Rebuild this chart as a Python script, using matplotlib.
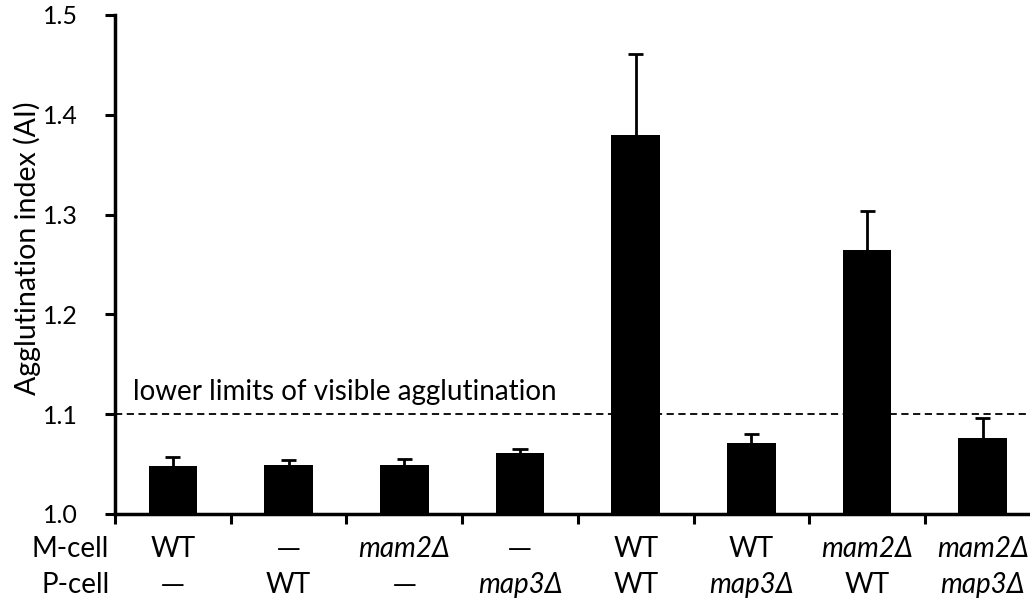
import matplotlib
matplotlib.use('Agg')
import matplotlib.pyplot as plt

# data
m_cell = ['WT', '—', 'mam2Δ', '—', 'WT', 'WT', 'mam2Δ', 'mam2Δ']
p_cell = ['—', 'WT', '—', 'map3Δ', 'WT', 'map3Δ', 'WT', 'map3Δ']
ai_mean = [1.048, 1.049, 1.049, 1.061, 1.380, 1.071, 1.265, 1.076]
ai_err = [0.009, 0.005, 0.006, 0.004, 0.081, 0.009, 0.039, 0.020]
threshold = 1.1

plt.rcParams['font.family'] = ['Lato', 'DejaVu Sans']
fs = 20

fig = plt.figure(figsize=(10.30, 6.09), dpi=100)
ax = fig.add_axes([0.1117, 0.156, 0.8986, 0.8194])

x = list(range(len(ai_mean)))
ax.bar(x, [v - 1.0 for v in ai_mean], bottom=1.0, width=0.42, color='black', zorder=2)
# upper error bars only, with a cap
tops = [m + e for m, e in zip(ai_mean, ai_err)]
ax.vlines(x, ai_mean, tops, color='black', linewidth=2, zorder=3)
ax.hlines(tops, [i - 0.065 for i in x], [i + 0.065 for i in x], color='black', linewidth=2, zorder=3)

ax.axhline(threshold, color='black', linestyle='--', linewidth=1.3, dashes=(4, 2.5), zorder=1)
ax.text(-0.345, threshold + 0.009, 'lower limits of visible agglutination',
        fontsize=fs, ha='left', va='bottom')

ax.set_xlim(-0.5, 7.5)
ax.set_ylim(1.0, 1.5)
ax.set_yticks([1.0, 1.1, 1.2, 1.3, 1.4, 1.5])
ax.set_yticklabels(['1.0', '1.1', '1.2', '1.3', '1.4', '1.5'], fontsize=18)
ax.set_xticks([i - 0.5 for i in range(9)])
ax.set_xticklabels([])
ax.tick_params(axis='both', direction='out', length=7, width=2.2)
ax.tick_params(axis='y', pad=20)

for s in ['top', 'right']:
    ax.spines[s].set_visible(False)
for s in ['left', 'bottom']:
    ax.spines[s].set_linewidth(2.5)

ax.set_ylabel('Agglutination index (AI)', fontsize=20.5)
ax.yaxis.set_label_coords(-0.08, 0.533)

# two-row genotype table under the axis
for i in x:
    for lab, yy in [(m_cell[i], -0.07), (p_cell[i], -0.142)]:
        if lab == '—':
            ax.text(i, yy, lab, transform=ax.get_xaxis_transform(), ha='center', va='center',
                    fontsize=17, family='DejaVu Sans')
        else:
            style = 'italic' if 'Δ' in lab else 'normal'
            ax.text(i, yy, lab, transform=ax.get_xaxis_transform(), ha='center', va='center',
                    fontsize=fs, style=style)
ax.text(-0.55, -0.07, 'M-cell', transform=ax.get_xaxis_transform(), ha='right', va='center', fontsize=fs)
ax.text(-0.55, -0.142, 'P-cell', transform=ax.get_xaxis_transform(), ha='right', va='center', fontsize=fs)

fig.savefig('out.png', dpi=100)
